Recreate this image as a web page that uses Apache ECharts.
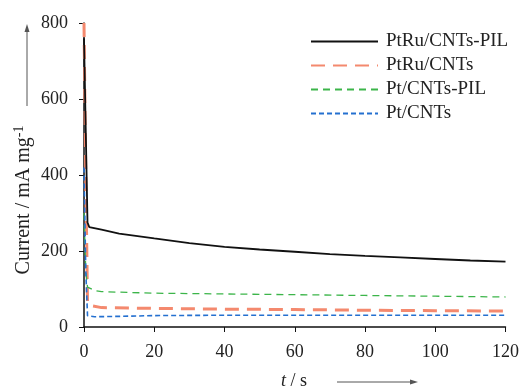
<!DOCTYPE html>
<html>
<head>
<meta charset="utf-8">
<script src="https://cdn.jsdelivr.net/npm/echarts@6/dist/echarts.min.js"></script>
<style>
  html, body { margin: 0; padding: 0; background: #fff; }
  #chart { width: 522px; height: 391px; }
</style>
</head>
<body>
<div id="chart"></div>
<script>
const seriesNames = ["PtRu/CNTs-PIL", "PtRu/CNTs", "Pt/CNTs-PIL", "Pt/CNTs"]
const xTicks = [0, 20, 40, 60, 80, 100, 120]
const yTicks = [0, 200, 400, 600, 800]

// [t (s), current (mA mg-1)]
const ptRuPil = [[0, 760], [1, 275], [1.5, 263], [5, 256], [10, 246], [20, 233], [30, 221], [40, 211], [50, 204], [60, 198], [70, 192], [80, 187], [90, 183], [100, 179], [110, 175], [120, 172]]
const ptRu = [[0, 800], [0.5, 400], [1, 68], [2, 56], [5, 51], [20, 49], [40, 47], [60, 46], [80, 44], [100, 43], [120, 42]]
const ptPil = [[0, 300], [0.5, 150], [1, 105], [3, 96], [5, 93], [20, 89], [40, 87], [60, 85], [80, 83], [100, 81], [120, 79]]
const pt = [[0, 420], [0.5, 150], [1, 30], [3, 27], [10, 28], [20, 30], [40, 31], [60, 31], [80, 31], [100, 31], [120, 31]]

const serif = "Liberation Serif"
const chart = echarts.init(document.getElementById("chart"), null, { renderer: "canvas" })

const line = (name, data, color, width, dash) => ({
  name,
  type: "line",
  symbol: "none",
  data,
  lineStyle: { color, width, type: dash },
  itemStyle: { color },
  animation: false,
})

chart.setOption({
  backgroundColor: "#fff",
  animation: false,
  grid: { left: 84, right: 16, top: 23, bottom: 64 },
  legend: {
    orient: "vertical",
    left: 305,
    top: 27,
    itemWidth: 67,
    itemHeight: 14,
    itemGap: 5,
    itemStyle: { opacity: 0 },
    textStyle: { fontFamily: serif, fontSize: 19, color: "#222", padding: [0, 0, 0, 3] },
    data: seriesNames,
  },
  xAxis: {
    type: "value",
    min: 0,
    max: 120,
    interval: 20,
    axisLine: { lineStyle: { color: "#111", width: 1.5 } },
    axisTick: { show: true, length: 5, lineStyle: { color: "#111" } },
    splitLine: { show: false },
    axisLabel: { fontFamily: serif, fontSize: 18, color: "#222", margin: 16,
      formatter: (v) => xTicks.includes(v) ? String(v) : "" },
  },
  yAxis: {
    type: "value",
    min: 0,
    max: 800,
    interval: 200,
    axisLine: { show: true, lineStyle: { color: "#111", width: 1.5 } },
    axisTick: { show: true, length: 5, lineStyle: { color: "#111" } },
    splitLine: { show: false },
    axisLabel: { fontFamily: serif, fontSize: 18, color: "#222", margin: 16,
      formatter: (v) => yTicks.includes(v) ? String(v) : "" },
  },
  graphic: [
    {
      type: "text",
      x: 24,
      y: 200,
      rotation: Math.PI / 2,
      style: {
        text: "Current / mA mg{sup|-1}",
        fontFamily: serif,
        fontSize: 20,
        fill: "#222",
        align: "center",
        verticalAlign: "middle",
        rich: { sup: { fontFamily: serif, fontSize: 14, fill: "#222", verticalAlign: "top", padding: [0, 0, 10, 0] } },
      },
    },
    { type: "line", shape: { x1: 27, y1: 106, x2: 27, y2: 28 }, style: { stroke: "#555", lineWidth: 1 } },
    { type: "polygon", shape: { points: [[27, 24], [24.5, 32], [29.5, 32]] }, style: { fill: "#555" } },
    {
      type: "text",
      x: 294,
      y: 381,
      style: {
        text: "{i|t} / s",
        fontFamily: serif,
        fontSize: 18,
        fill: "#222",
        align: "center",
        verticalAlign: "middle",
        rich: { i: { fontFamily: serif, fontStyle: "italic", fontSize: 18, fill: "#222" } },
      },
    },
    { type: "line", shape: { x1: 337, y1: 382, x2: 414, y2: 382 }, style: { stroke: "#555", lineWidth: 1 } },
    { type: "polygon", shape: { points: [[418, 382], [410, 379.5], [410, 384.5]] }, style: { fill: "#555" } },
  ],
  series: [
    line(seriesNames[1], ptRu, "#f4896e", 3, [14, 8]),
    line(seriesNames[2], ptPil, "#3cb54a", 1.3, [7, 5]),
    line(seriesNames[3], pt, "#2470d0", 1.6, [5, 3]),
    line(seriesNames[0], ptRuPil, "#111", 1.8, "solid"),
  ],
})
</script>
</body>
</html>
